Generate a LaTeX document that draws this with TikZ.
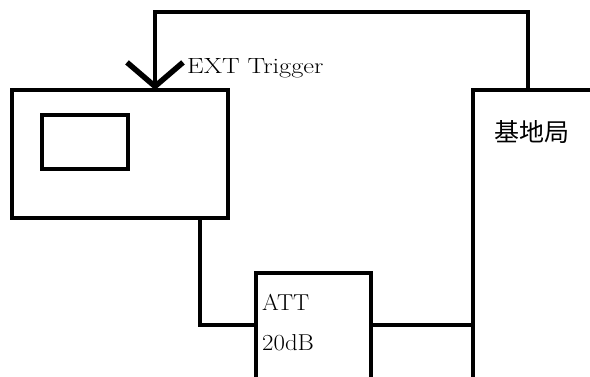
\documentclass[tikz,border=0pt]{standalone}
\usepackage{fontspec}
\usepackage{graphicx}
\newfontfamily\cjk{Noto Sans CJK SC}
\usetikzlibrary{arrows.meta}
\begin{document}
\begin{tikzpicture}[x=1pt,y=-1pt,
  box/.style={draw, line width=4.2pt, inner sep=0pt, outer sep=0pt},
  wire/.style={line width=3.6pt},
  lbl/.style={inner sep=0pt, anchor=base west, font=\fontsize{23}{26}\selectfont}]
\useasboundingbox (0,0) rectangle (590,376);
\clip (0,0) rectangle (590,376);
\fill[white] (0,0) rectangle (590,376);
\node[box, minimum width=216pt, minimum height=128pt] (inst) at (120,154) {};
\node[box, minimum width=86pt, minimum height=54pt] (scr) at (85,142) {};
\node[box, minimum width=115pt, minimum height=130pt, anchor=north west] (att) at (256,273) {};
\node[box, minimum width=150pt, minimum height=320pt, anchor=north west] (bs) at (473,90) {};
\node[lbl] (attl) at (262,310) {\scalebox{1.05}[1]{ATT}};
\node[lbl] (db) at (262,350) {\scalebox{1.08}[1]{20dB}};
\node[lbl, font=\fontsize{22}{26}\selectfont] (ext) at (187,73) {\scalebox{1.2}[1]{EXT Trigger}};
\node[lbl, font=\cjk\fontsize{25}{28}\selectfont] (bsl) at (494,141) {基地局};
\coordinate (j1) at (200,325);
\coordinate (tr) at (528,12);
\coordinate (tl) at (155,12);
\draw[wire] (inst.south -| j1) |- (att.west |- j1);
\draw[wire] (att.east |- j1) -- (bs.west |- j1);
\draw[wire, -{Straight Barb[length=24pt,width=56pt,line width=5.5pt]}] (bs.north -| tr) -- (tr) -- (tl) -- (inst.north -| tl);
\end{tikzpicture}
\end{document}
